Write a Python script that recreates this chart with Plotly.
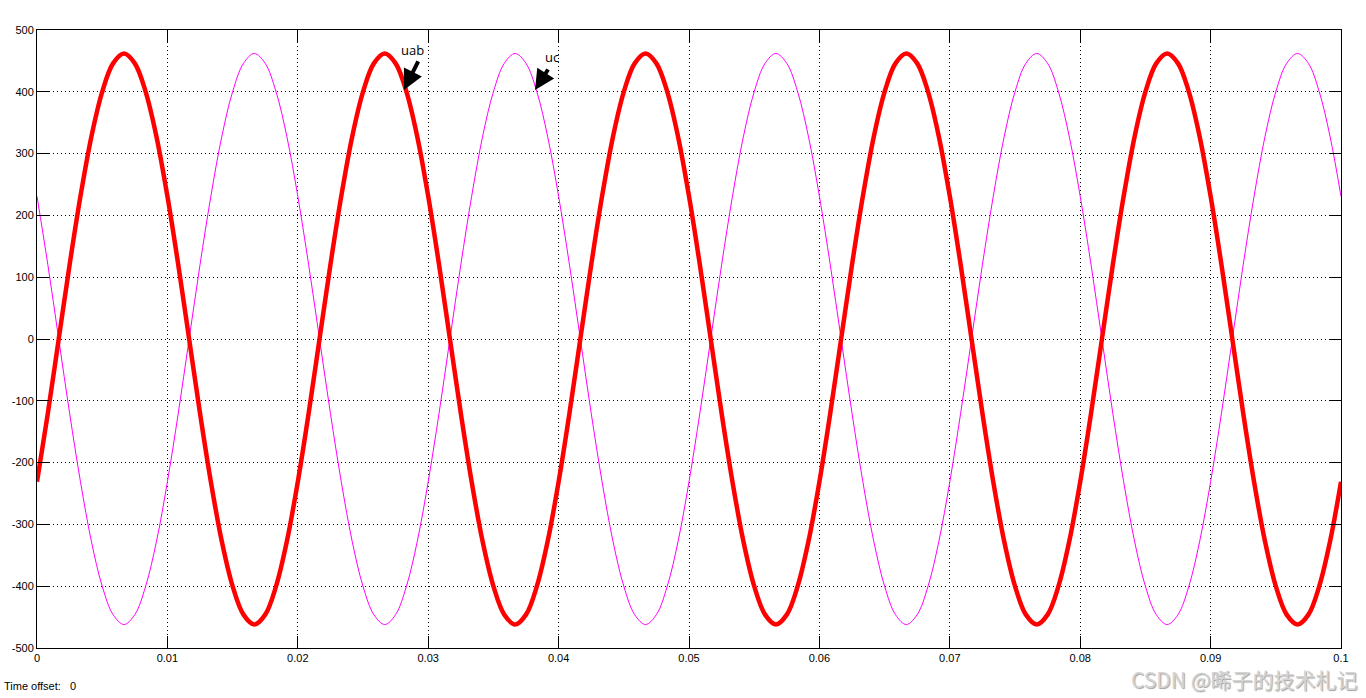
import plotly.graph_objects as go

# sample step: 15 degrees of a 50 Hz wave (0.02 s / 24)
T_STEP = 0.02 / 24

uab = [
    -231, -120, 0, 120, 231, 327, 400, 446, 462, 446, 400, 327, 231, 120, 0, -120, -231, -327, -400, -446, -462, -446, -400, -327,
    -231, -120, 0, 120, 231, 327, 400, 446, 462, 446, 400, 327, 231, 120, 0, -120, -231, -327, -400, -446, -462, -446, -400, -327,
    -231, -120, 0, 120, 231, 327, 400, 446, 462, 446, 400, 327, 231, 120, 0, -120, -231, -327, -400, -446, -462, -446, -400, -327,
    -231, -120, 0, 120, 231, 327, 400, 446, 462, 446, 400, 327, 231, 120, 0, -120, -231, -327, -400, -446, -462, -446, -400, -327,
    -231, -120, 0, 120, 231, 327, 400, 446, 462, 446, 400, 327, 231, 120, 0, -120, -231, -327, -400, -446, -462, -446, -400, -327,
    -231,
]

uc = [
    231, 120, 0, -120, -231, -327, -400, -446, -462, -446, -400, -327, -231, -120, 0, 120, 231, 327, 400, 446, 462, 446, 400, 327,
    231, 120, 0, -120, -231, -327, -400, -446, -462, -446, -400, -327, -231, -120, 0, 120, 231, 327, 400, 446, 462, 446, 400, 327,
    231, 120, 0, -120, -231, -327, -400, -446, -462, -446, -400, -327, -231, -120, 0, 120, 231, 327, 400, 446, 462, 446, 400, 327,
    231, 120, 0, -120, -231, -327, -400, -446, -462, -446, -400, -327, -231, -120, 0, 120, 231, 327, 400, 446, 462, 446, 400, 327,
    231, 120, 0, -120, -231, -327, -400, -446, -462, -446, -400, -327, -231, -120, 0, 120, 231, 327, 400, 446, 462, 446, 400, 327,
    231,
]

x_tickvals = [0, 0.01, 0.02, 0.03, 0.04, 0.05, 0.06, 0.07, 0.08, 0.09, 0.1]
x_ticktext = ["0", "0.01", "0.02", "0.03", "0.04", "0.05", "0.06", "0.07", "0.08", "0.09", "0.1"]
y_tickvals = [500, 400, 300, 200, 100, 0, -100, -200, -300, -400, -500]
y_ticktext = ["500", "400", "300", "200", "100", "0", "-100", "-200", "-300", "-400", "-500"]

fig = go.Figure()
fig.add_trace(go.Scatter(y=uc, x0=0, dx=T_STEP, mode="lines",
                         line=dict(color="#FF00FF", width=1, shape="spline"),
                         name="uc", hoverinfo="skip"))
fig.add_trace(go.Scatter(y=uab, x0=0, dx=T_STEP, mode="lines",
                         line=dict(color="#FF0000", width=4.5, shape="spline"),
                         name="uab", hoverinfo="skip"))

axis_common = dict(
    showline=True, linecolor="black", linewidth=1, mirror="ticks",
    ticks="inside", ticklen=12, tickcolor="black", tickwidth=1,
    showgrid=True, gridcolor="black", gridwidth=1, griddash="1px,3px",
    zeroline=False,
    tickfont=dict(family="Liberation Sans, Arial, sans-serif", size=11, color="black"),
)

fig.update_xaxes(range=[0, 0.1], tickmode="array", tickvals=x_tickvals, ticktext=x_ticktext, **axis_common)
fig.update_yaxes(range=[-500, 500], tickmode="array", tickvals=y_tickvals, ticktext=y_ticktext, **axis_common)

annots = [
    dict(x=0.02814, y=403, xref="x", yref="y", text="", showarrow=True,
         ax=15, ay=-30, arrowhead=2, arrowsize=1, arrowwidth=4, arrowcolor="black", standoff=0),
    dict(x=0.02883, y=468, xref="x", yref="y", text="uab", showarrow=False,
         font=dict(family="Open Sans, DejaVu Sans, sans-serif", size=13, color="black")),
    dict(x=0.03819, y=403, xref="x", yref="y", text="", showarrow=True,
         ax=14, ay=-22, arrowhead=2, arrowsize=1, arrowwidth=4, arrowcolor="black", standoff=0),
    dict(x=0.03949, y=457, xref="x", yref="y", text="uc", showarrow=False,
         font=dict(family="Open Sans, DejaVu Sans, sans-serif", size=13, color="black")),
    dict(x=-0.0268, y=-0.0615, xref="paper", yref="paper", text="Time offset:   0",
         showarrow=False, xanchor="left", yanchor="middle",
         font=dict(family="Liberation Sans, Arial, sans-serif", size=11, color="black")),
    dict(x=1.014, y=-0.0245, xref="paper", yref="paper", text="CSDN @晞子的技术札记",
         showarrow=False, xanchor="right", yanchor="top", borderpad=0,
         font=dict(family="Noto Sans CJK SC, sans-serif", size=21, color="#d4d4d4",
                   shadow="1px 1px 1px #a0a0a0")),
]

fig.update_layout(
    width=1366, height=698, autosize=False,
    margin=dict(l=37, r=25, t=30, b=50, pad=0),
    paper_bgcolor="white", plot_bgcolor="white",
    showlegend=False,
    annotations=annots,
)

fig.write_html("out.html", config={"displayModeBar": False},
               post_script="document.body.style.margin='0';")
